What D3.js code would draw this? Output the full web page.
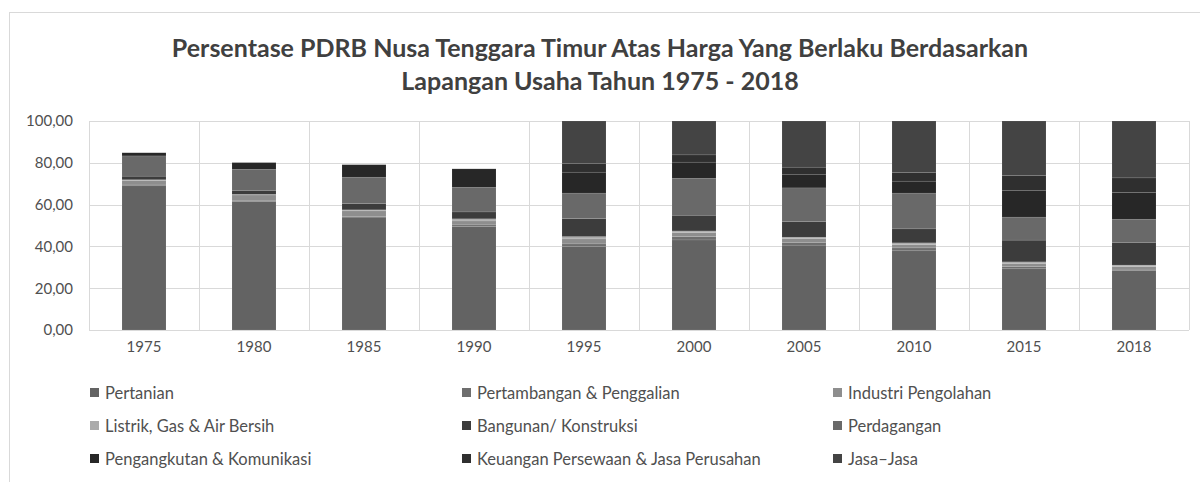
<!DOCTYPE html>
<html>
<head>
<meta charset="utf-8">
<script src="https://cdn.jsdelivr.net/npm/d3@7"></script>
<style>
  body { margin: 0; background: #fff; }
  text { font-family: Lato, "Open Sans", sans-serif; }
</style>
</head>
<body>
<div id="chart"></div>
<script>
// years on the x axis
const years = ["1975", "1980", "1985", "1990", "1995", "2000", "2005", "2010", "2015", "2018"];

// share of each sector per year (%)
const pertanian    = [69.0, 61.5, 54.0, 49.5, 39.9, 43.1, 40.6, 37.9, 29.3, 28.5];
const pertambangan = [0.4, 0.3, 0.2, 0.8, 1.3, 1.6, 1.3, 1.4, 1.1, 0.6];
const industri     = [2.2, 2.8, 2.8, 1.9, 2.4, 1.9, 1.9, 1.6, 1.3, 1.3];
const listrik      = [0.3, 0.3, 0.5, 1.0, 1.1, 0.8, 0.6, 0.8, 0.9, 0.7];
const bangunan     = [1.7, 1.9, 3.0, 3.3, 8.6, 7.5, 7.5, 6.7, 10.4, 10.8];
const perdagangan  = [9.7, 10.1, 12.6, 11.8, 12.2, 17.7, 16.1, 17.1, 11.0, 11.1];
const pengangkutan = [1.5, 3.2, 6.0, 8.8, 10.0, 7.7, 6.3, 5.7, 12.7, 12.8];
const keuangan     = [0, 0, 0, 0, 4.1, 3.5, 3.6, 4.1, 7.2, 7.0];
const jasa         = [0, 0, 0, 0, 20.4, 16.2, 22.1, 24.7, 26.1, 27.2];

const sectors = [
  "Pertanian", "Pertambangan & Penggalian", "Industri Pengolahan",
  "Listrik, Gas & Air Bersih", "Bangunan/ Konstruksi", "Perdagangan",
  "Pengangkutan & Komunikasi", "Keuangan Persewaan & Jasa Perusahan", "Jasa\u2013Jasa"
];
const sectorValues = [pertanian, pertambangan, industri, listrik, bangunan, perdagangan, pengangkutan, keuangan, jasa];

const yTicks = [0, 20, 40, 60, 80, 100];

const width = 1200;
const height = 482;
const margin = { top: 121, right: 10, bottom: 152, left: 89 };
const plotW = 1100;
const plotH = 209;

const color = d3.scaleOrdinal()
  .domain(sectors)
  .range(["#636363", "#6e6e6e", "#8e8e8e", "#ababab", "#3c3c3c", "#696969", "#272727", "#2f2f2f", "#444444"]);

// rows for d3.stack
const table = years.map((yr, i) => {
  const row = { year: yr };
  sectors.forEach((s, k) => { row[s] = sectorValues[k][i]; });
  return row;
});
const series = d3.stack().keys(sectors)(table);

const svg = d3.select("#chart")
  .append("svg")
  .attr("width", width)
  .attr("height", height);

// outer chart border
svg.append("rect")
  .attr("x", 9.5).attr("y", 12.5)
  .attr("width", 1200).attr("height", 500)
  .attr("fill", "none")
  .attr("stroke", "#d9d9d9");

const g = svg.append("g")
  .attr("transform", `translate(${margin.left}, ${margin.top})`);

const x = d3.scaleBand()
  .domain(years)
  .range([0, plotW])
  .paddingInner(0.6)
  .paddingOuter(0.3);

const y = d3.scaleLinear()
  .domain([0, 100])
  .range([plotH, 0]);

// horizontal grid
g.append("g")
  .selectAll("line")
  .data(yTicks)
  .join("line")
  .attr("x1", 0).attr("x2", plotW)
  .attr("y1", d => Math.round(y(d)) + 0.5)
  .attr("y2", d => Math.round(y(d)) + 0.5)
  .attr("stroke", "#d9d9d9")
  .attr("stroke-width", 1);

// vertical category separators
const step = plotW / years.length;
g.append("g")
  .selectAll("line")
  .data(d3.range(years.length + 1))
  .join("line")
  .attr("x1", d => Math.round(d * step) + 0.5)
  .attr("x2", d => Math.round(d * step) + 0.5)
  .attr("y1", 0).attr("y2", plotH)
  .attr("stroke", "#d9d9d9")
  .attr("stroke-width", 1);

// stacked bars
g.append("g")
  .selectAll("g")
  .data(series)
  .join("g")
  .attr("fill", d => color(d.key))
  .selectAll("rect")
  .data(d => d)
  .join("rect")
  .attr("x", d => x(d.data.year))
  .attr("width", x.bandwidth())
  .attr("y", d => y(d[1]))
  .attr("height", d => Math.max(0, y(d[0]) - y(d[1])))
  .attr("stroke", "#ffffff")
  .attr("stroke-opacity", 0.15)
  .attr("stroke-width", 0.6);

// y axis labels
const yAxis = g.append("g")
  .call(d3.axisLeft(y).tickValues(yTicks).tickSize(0).tickPadding(16)
    .tickFormat(d => d3.format(".2f")(d).replace(".", ",")));
yAxis.select(".domain").remove();
yAxis.selectAll("text")
  .style("font-size", "15px")
  .attr("fill", "#505050");

// x axis labels
const xAxis = g.append("g")
  .attr("transform", `translate(0, ${plotH})`)
  .call(d3.axisBottom(x).tickSize(0).tickPadding(11));
xAxis.select(".domain").remove();
xAxis.selectAll("text")
  .style("font-size", "15px")
  .attr("fill", "#505050");

// title
const title = svg.append("text")
  .attr("x", 600)
  .attr("text-anchor", "middle")
  .style("font-size", "25px")
  .style("font-weight", "bold")
  .attr("fill", "#404040");
title.append("tspan").attr("x", 600).attr("y", 57)
  .text("Persentase PDRB Nusa Tenggara Timur Atas Harga Yang Berlaku Berdasarkan");
title.append("tspan").attr("x", 600).attr("y", 90)
  .text("Lapangan Usaha Tahun 1975 - 2018");

// legend, three columns
const legendCols = [90, 462, 833];
const legendRows = [393, 426, 459];
const legend = svg.append("g")
  .selectAll("g")
  .data(sectors)
  .join("g")
  .attr("transform", (d, i) => `translate(${legendCols[i % 3]}, ${legendRows[Math.floor(i / 3)]})`);

legend.append("rect")
  .attr("x", 0).attr("y", -5)
  .attr("width", 9).attr("height", 9)
  .attr("fill", d => color(d));

legend.append("text")
  .attr("x", 15)
  .attr("y", 0)
  .attr("dy", "0.35em")
  .style("font-size", "16.5px")
  .attr("fill", "#505050")
  .text(d => d);
</script>
</body>
</html>
